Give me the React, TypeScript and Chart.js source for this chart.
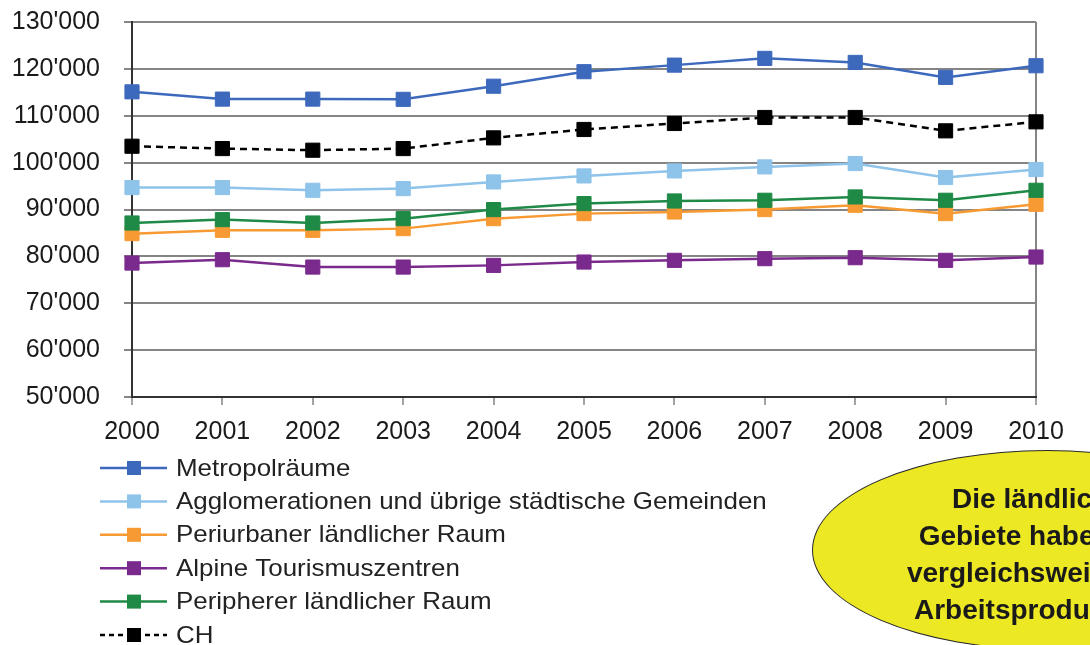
import React, { useEffect, useRef } from 'react';
import { Chart, registerables } from 'chart.js';

Chart.register(...registerables);

const years = ['2000', '2001', '2002', '2003', '2004', '2005', '2006', '2007', '2008', '2009', '2010'];

const metropol = [115100, 113550, 113550, 113500, 116300, 119400, 120800, 122240, 121380, 118180, 120670];
const agglo = [94680, 94680, 94100, 94460, 95880, 97160, 98230, 99090, 99810, 96820, 98530];
const periurban = [84850, 85560, 85560, 85920, 88050, 89120, 89470, 89980, 90900, 89120, 91110];
const alpine = [78570, 79290, 77720, 77720, 78080, 78790, 79150, 79510, 79720, 79150, 79860];
const peripher = [87120, 87840, 87120, 88050, 89980, 91260, 91820, 91970, 92680, 91970, 94100];
const ch = [103500, 103000, 102650, 103000, 105280, 107070, 108350, 109630, 109630, 106780, 108700];

const seriesNames = [
  'Metropolräume',
  'Agglomerationen und übrige städtische Gemeinden',
  'Periurbaner ländlicher Raum',
  'Alpine Tourismuszentren',
  'Peripherer ländlicher Raum',
  'CH',
];
const seriesValues = [metropol, agglo, periurban, alpine, peripher, ch];
const seriesColors = ['#3d69bd', '#8ec3ea', '#f79a33', '#7a2a8c', '#1e8a46', '#000000'];
const seriesDashed = [false, false, false, false, false, true];

const yMin = 50000;
const yMax = 130000;
const yStep = 10000;

const calloutLines = ['Die ländlichen', 'Gebiete haben eine', 'vergleichsweise tiefe', 'Arbeitsproduktivität'];

const FONT = '"Liberation Sans", Arial, Helvetica, sans-serif';

const formatTick = (v: number) => {
  const k = Math.round(v / 1000);
  return `${k}'000`;
};

const legendPlugin = {
  id: 'customLegend',
  afterDraw(chart: any) {
    const ctx = chart.ctx as CanvasRenderingContext2D;
    const area = chart.chartArea;
    const startY = area.bottom + 71;
    const stepY = 33.4;
    chart.data.datasets.forEach((ds: any, i: number) => {
      const y = startY + i * stepY;
      ctx.save();
      ctx.strokeStyle = ds.borderColor;
      ctx.lineWidth = 2.5;
      if (seriesDashed[i]) ctx.setLineDash([5, 4]);
      ctx.beginPath();
      ctx.moveTo(100, y);
      ctx.lineTo(167, y);
      ctx.stroke();
      ctx.setLineDash([]);
      ctx.fillStyle = ds.pointBackgroundColor;
      ctx.fillRect(127, y - 7, 14, 14);
      ctx.fillStyle = '#222222';
      ctx.font = `24px ${FONT}`;
      ctx.textBaseline = 'middle';
      ctx.translate(176, y + 1);
      ctx.scale(1.08, 1);
      ctx.fillText(ds.label, 0, 0);
      ctx.restore();
    });
  },
};

function LineChart() {
  const ref = useRef<HTMLCanvasElement | null>(null);
  useEffect(() => {
    if (!ref.current) return;
    const datasets = seriesNames.map((name, i) => ({
      label: name,
      data: seriesValues[i],
      borderColor: seriesColors[i],
      backgroundColor: seriesColors[i],
      pointBackgroundColor: seriesColors[i],
      pointBorderColor: seriesColors[i],
      pointBorderWidth: 1,
      pointStyle: 'rect',
      pointRadius: 10,
      borderWidth: 2.5,
      borderDash: seriesDashed[i] ? [7, 5] : [],
      tension: 0,
      fill: false,
      order: seriesNames.length - i,
    }));
    const chart = new Chart(ref.current, {
      type: 'line',
      data: { labels: years, datasets },
      options: {
        animation: false,
        responsive: false,
        maintainAspectRatio: false,
        layout: { padding: { left: 12, top: 22, right: 54, bottom: 198 } },
        plugins: {
          legend: { display: false },
          tooltip: { enabled: false },
          title: { display: false },
        },
        scales: {
          x: {
            type: 'category',
            offset: false,
            afterFit: (scale: any) => {
              scale.height = 50;
            },
            grid: {
              display: true,
              drawOnChartArea: true,
              color: (c: any) => (c.index === years.length - 1 ? '#858585' : 'rgba(0,0,0,0)'),
              tickColor: '#858585',
              tickWidth: 1.5,
              lineWidth: 2,
              tickLength: 8,
            },
            border: { display: true, color: '#333333', width: 2 },
            ticks: {
              color: '#1a1a1a',
              font: { family: FONT, size: 25 },
              padding: 12,
              maxRotation: 0,
              autoSkip: false,
            },
          },
          y: {
            min: yMin,
            max: yMax,
            afterFit: (scale: any) => {
              scale.width = 120;
              scale.paddingTop = 0;
              scale.paddingBottom = 0;
            },
            grid: {
              color: '#858585',
              lineWidth: 2,
              tickLength: 8,
            },
            border: { display: true, color: '#333333', width: 2 },
            ticks: {
              stepSize: yStep,
              color: '#1a1a1a',
              font: { family: FONT, size: 25 },
              padding: 24,
              callback: (v: any) => formatTick(Number(v)),
            },
          },
        },
      },
      plugins: [legendPlugin],
    } as any);
    return () => chart.destroy();
  }, []);
  return <canvas ref={ref} width={1090} height={645} style={{ display: 'block', width: 1090, height: 645 }} />;
}

export default function App() {
  useEffect(() => {
    document.body.style.margin = '0';
    document.body.style.background = '#ffffff';
  }, []);
  return (
    <div style={{ position: 'relative', width: 1090, height: 645, overflow: 'hidden', background: '#ffffff' }}>
      <LineChart />
      <div
        style={{
          position: 'absolute',
          left: 812,
          top: 450,
          width: 470,
          height: 200,
          boxSizing: 'border-box',
          borderRadius: '50%',
          background: '#ece823',
          border: '1.5px solid #2a2a2a',
          display: 'flex',
          flexDirection: 'column',
          alignItems: 'center',
          justifyContent: 'center',
          fontFamily: FONT,
          fontWeight: 'bold',
          fontSize: 28,
          lineHeight: '37px',
          color: '#1a1a1a',
          textAlign: 'center',
          paddingTop: 8,
        }}
      >
        {calloutLines.map((line) => (
          <div key={line} style={{ whiteSpace: 'nowrap' }}>
            {line}
          </div>
        ))}
      </div>
    </div>
  );
}
